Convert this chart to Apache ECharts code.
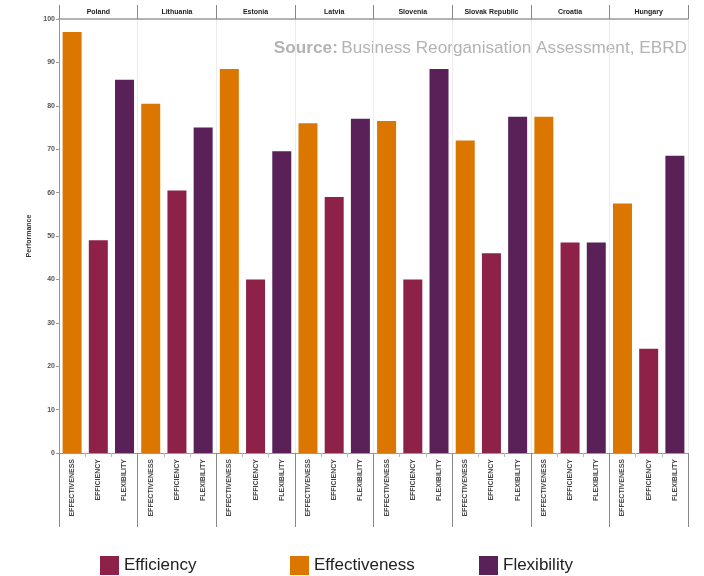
<!DOCTYPE html>
<html><head><meta charset="utf-8">
<script src="https://cdn.jsdelivr.net/npm/echarts@6/dist/echarts.min.js"></script>
<style>html,body{margin:0;padding:0;background:#fff}#c{width:704px;height:576px}</style>
</head><body><div id="c"></div>
<script>
const countries = ['Poland','Lithuania','Estonia','Latvia','Slovenia','Slovak Republic','Croatia','Hungary'];
const measures = ['EFFECTIVENESS','EFFICIENCY','FLEXIBILITY'];
const effectiveness = [97, 80.5, 88.5, 76, 76.5, 72, 77.5, 57.5];
const efficiency    = [49, 60.5, 40, 59, 40, 46, 48.5, 24];
const flexibility   = [86, 75, 69.5, 77, 88.5, 77.5, 48.5, 68.5];
const yTicks = [0,10,20,30,40,50,60,70,80,90,100];

const cats = [];
countries.forEach((c,i)=>measures.forEach(m=>cats.push(m)));
function place(vals, k){
  const out = [];
  countries.forEach((c,i)=>{ for(let j=0;j<3;j++) out.push(j===k ? vals[i] : '-'); });
  return out;
}
const FONT = 'Liberation Sans';
const chart = echarts.init(document.getElementById('c'));
const legendBase = {bottom: 1, padding: 0, itemWidth: 19, itemHeight: 19, icon: 'rect', itemGap: 8,
  textStyle:{fontFamily: FONT, fontSize: 17, color:'#222'}};
chart.setOption({
  animation:false,
  grid:{left:59, right:16, top:19, bottom:123},
  graphic:[{type:'text', right:17, top:40, style:{
    rich:{b:{fontWeight:'bold', fontSize:17.2, fontFamily:FONT, fill:'#b3b3b3'},
          n:{fontSize:17.2, fontFamily:FONT, fill:'#b3b3b3'}},
    text:'{b|Source:} {n|Business Reorganisation Assessment, EBRD}'}}],
  legend:[
    Object.assign({}, legendBase, {data:['Efficiency'], left:100}),
    Object.assign({}, legendBase, {data:['Effectiveness'], left:290}),
    Object.assign({}, legendBase, {data:['Flexibility'], left:479})
  ],
  xAxis:[
    {type:'category', data:cats, position:'bottom',
     axisLine:{lineStyle:{color:'#999'}},
     axisTick:{show:true, interval:0, length:4, lineStyle:{color:'#bbb'}},
     axisLabel:{interval:0, rotate:90, fontSize:7, fontWeight:'bold', color:'#444', fontFamily:FONT, margin:6}},
    {type:'category', data:countries, position:'bottom',
     axisLine:{show:false},
     axisTick:{show:true, interval:0, length:74, lineStyle:{color:'#888'}},
     axisLabel:{show:false}},
    {type:'category', data:countries, position:'top',
     axisLine:{show:true, lineStyle:{color:'#999', width:1.5}},
     axisTick:{show:true, interval:0, length:14, lineStyle:{color:'#888'}},
     axisLabel:{interval:0, fontSize:7, fontWeight:'bold', color:'#222', fontFamily:FONT, margin:3},
     splitLine:{show:true, lineStyle:{color:'#ececec'}}}
  ],
  yAxis:{type:'value', min:0, max:100, interval:10,
    name:'Performance', nameLocation:'middle', nameGap:18,
    nameTextStyle:{fontSize:7, fontWeight:'bold', color:'#333', fontFamily:FONT},
    axisLine:{show:true, lineStyle:{color:'#999'}},
    axisTick:{show:true, length:3, lineStyle:{color:'#999'}},
    axisLabel:{fontSize:7, fontWeight:'bold', color:'#555', fontFamily:FONT, margin:4},
    splitLine:{show:false}},
  series:[
    {name:'Efficiency', type:'bar', data:place(efficiency,1), barWidth:19, barGap:'-100%', itemStyle:{color:'#8E2148'}},
    {name:'Effectiveness', type:'bar', data:place(effectiveness,0), barWidth:19, barGap:'-100%', itemStyle:{color:'#DB7700'}},
    {name:'Flexibility', type:'bar', data:place(flexibility,2), barWidth:19, barGap:'-100%', itemStyle:{color:'#5A2159'}}
  ]
});
</script></body></html>
